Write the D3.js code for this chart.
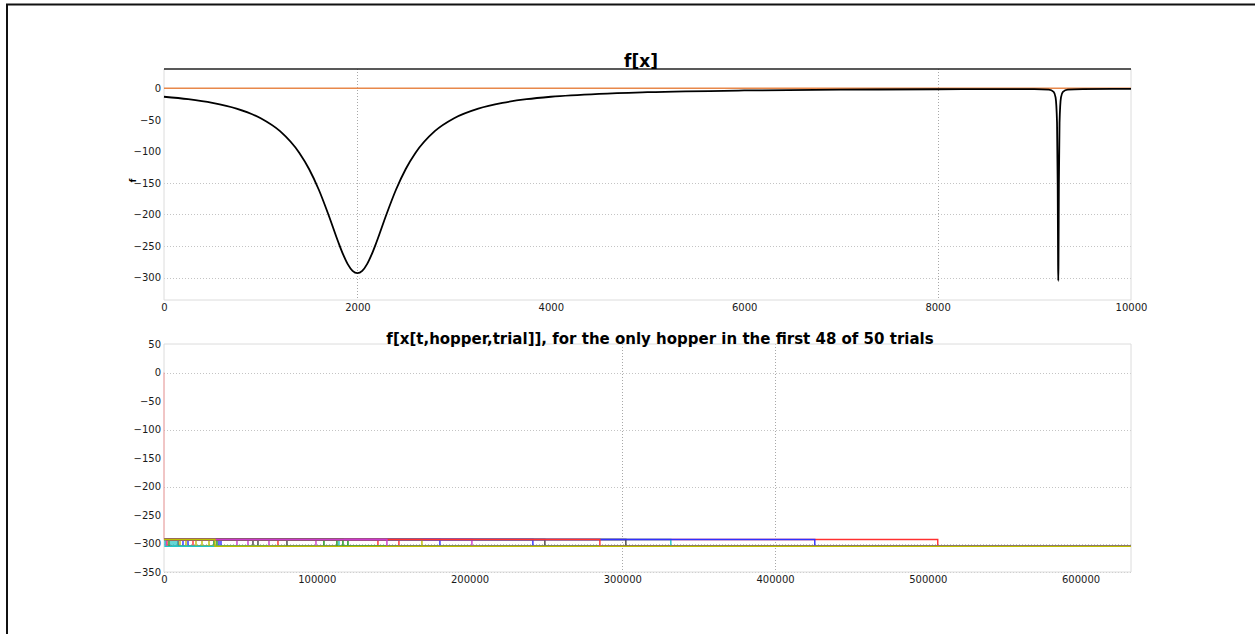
<!DOCTYPE html>
<html>
<head>
<meta charset="utf-8">
<script src="https://cdn.jsdelivr.net/npm/d3@7"></script>
<style>
  body { margin: 0; background: #fff; }
  svg { display: block; }
  text { font-family: "DejaVu Sans", sans-serif; }
</style>
</head>
<body>
<svg id="chart" width="1255" height="634"></svg>
<script>
// ---- f[x] sampled along x ----
const curveX = [0, 250, 500, 750, 1000, 1200, 1400, 1500, 1600, 1700, 1800, 1850, 1900, 1950, 2000,
  2050, 2100, 2150, 2200, 2300, 2400, 2500, 2600, 2800, 3000, 3250, 3500, 3750, 4000, 4500, 5000,
  6000, 7000, 8000, 8500, 9000, 9150, 9200, 9220, 9235, 9242, 9246, 9248, 9250, 9254, 9261, 9276,
  9296, 9346, 9500, 10000];
const curveF = [-13.5, -17.4, -23.2, -32.3, -47.5, -68.0, -102.5, -127.9, -160.4, -200.0, -242.8, -262.5, -278.6, -289.3, -293,
  -289.3, -278.6, -262.5, -242.8, -200.0, -160.4, -127.9, -102.5, -68.0, -47.5, -32.3, -23.2, -17.4, -13.5, -8.8, -6.2,
  -3.5, -2.3, -1.6, -1.4, -1.3, -2.2, -5.8, -14.5, -54.7, -153.6, -275.6, -305, -275.6, -153.6, -54.7, -14.5,
  -5.8, -2.2, -1.3, -0.9];
// reference level drawn across the whole range
const refLineX = [0, 10000];
const refLineF = [0, 0];

const topXTicks = [0, 2000, 4000, 6000, 8000, 10000];
const topYTicks = [0, -50, -100, -150, -200, -250, -300];
const topXGrid = [2000, 8000];
const topYGrid = [-150, -200, -250, -300];

// ---- hopper traces: one per trial ----
const runLength = 633000;
const basinLevel = -293;     // f at the broad well
const bestLevel = -305;      // f at the narrow well
// step at which each trial leaves the broad well for the narrow one
const dropStep = [12430, 32720, 1960, 4580, 1310, 10470, 9160, 15710, 3270, 18980,
  5890, 47770, 14400, 58240, 35990, 120410, 74600, 7200, 54970, 24870,
  61510, 37300, 34680, 140040, 8510, 68710, 20940, 80490, 180610, 104700,
  153780, 114520, 99470, 29450, 249320, 241470, 113210, 506500, 331780, 201560,
  168840, 302330, 426010, 117140, 285320, 650, 145930, 33370];
// value each trial starts from before settling in the broad well
const startValue = dropStep.map((d, i) => i === 2 ? 0 : basinLevel);
const colorCycle = ["#3030ff", "#159015", "#ff3030", "#25c4c4", "#cc3ccc", "#bdbd00", "#444444"];

const botXTicks = [0, 100000, 200000, 300000, 400000, 500000, 600000];
const botYTicks = [50, 0, -50, -100, -150, -200, -250, -300, -350];
const botXGrid = [300000, 400000];
const botYGrid = [0, -100, -200, -300, -350];

const svg = d3.select("#chart");

// outer frame edges
svg.append("line").attr("x1", 6).attr("x2", 1255).attr("y1", 4.5).attr("y2", 4.5)
  .attr("stroke", "#111").attr("stroke-width", 2);
svg.append("line").attr("x1", 7).attr("x2", 7).attr("y1", 4).attr("y2", 634)
  .attr("stroke", "#111").attr("stroke-width", 2);

function panel(box, xDomain, yDomain) {
  const x = d3.scaleLinear().domain(xDomain).range([box.left, box.right]);
  const y = d3.scaleLinear().domain(yDomain).range([box.bottom, box.top]);
  return { x, y };
}

function drawFrame(g, box, darkTop) {
  const spine = "#dcdcdc";
  g.append("line").attr("x1", box.left).attr("x2", box.left).attr("y1", box.top).attr("y2", box.bottom).attr("stroke", spine);
  g.append("line").attr("x1", box.right).attr("x2", box.right).attr("y1", box.top).attr("y2", box.bottom).attr("stroke", spine);
  g.append("line").attr("x1", box.left).attr("x2", box.right).attr("y1", box.bottom).attr("y2", box.bottom).attr("stroke", spine);
  g.append("line").attr("x1", box.left).attr("x2", box.right).attr("y1", box.top).attr("y2", box.top)
    .attr("stroke", darkTop ? "#222" : spine).attr("stroke-width", darkTop ? 1.3 : 1);
}

function drawGrid(g, s, box, xs, ys) {
  g.selectAll(null).data(xs).join("line")
    .attr("x1", d => Math.round(s.x(d)) + 0.5).attr("x2", d => Math.round(s.x(d)) + 0.5)
    .attr("y1", box.top).attr("y2", box.bottom)
    .attr("stroke", "#a8a8a8").attr("stroke-dasharray", "1,2");
  g.selectAll(null).data(ys).join("line")
    .attr("x1", box.left).attr("x2", box.right)
    .attr("y1", d => Math.round(s.y(d)) + 0.5).attr("y2", d => Math.round(s.y(d)) + 0.5)
    .attr("stroke", "#c4c4c4").attr("stroke-dasharray", "1,2");
}

function drawAxes(g, s, box, xt, yt) {
  const ax = g.append("g").attr("transform", `translate(0,${box.bottom})`)
    .call(d3.axisBottom(s.x).tickValues(xt).tickSize(0).tickPadding(4).tickFormat(d3.format("d")));
  const ay = g.append("g").attr("transform", `translate(${box.left},0)`)
    .call(d3.axisLeft(s.y).tickValues(yt).tickSize(0).tickPadding(3).tickFormat(d3.format("d")));
  [ax, ay].forEach(a => {
    a.select(".domain").remove();
    a.selectAll("text").attr("font-size", 10).attr("fill", "#1a1a1a")
      .attr("font-family", "'DejaVu Sans', sans-serif");
  });
}

// ---- upper panel: f[x] ----
const topBox = { left: 164, right: 1131, top: 69, bottom: 300 };
const topS = panel(topBox, [0, 10000], [-335.5, 30.5]);
const gTop = svg.append("g");
drawGrid(gTop, topS, topBox, topXGrid, topYGrid);
drawFrame(gTop, topBox, true);
drawAxes(gTop, topS, topBox, topXTicks, topYTicks);

const refLine = d3.line().x((d, i) => topS.x(refLineX[i])).y(d => topS.y(d));
gTop.append("path").attr("d", refLine(refLineF))
  .attr("fill", "none").attr("stroke", "#e8884a").attr("stroke-width", 1.3);

const fLine = d3.line().x((d, i) => topS.x(curveX[i])).y(d => topS.y(d)).curve(d3.curveMonotoneX);
gTop.append("path").attr("d", fLine(curveF))
  .attr("fill", "none").attr("stroke", "#000").attr("stroke-width", 1.8);

gTop.append("text").attr("x", 641).attr("y", 67)
  .attr("text-anchor", "middle").attr("font-size", 17).attr("font-weight", "bold").text("f[x]");
gTop.append("text").attr("transform", `translate(136,${(topBox.top + topBox.bottom) / 2 - 4}) rotate(-90)`)
  .attr("text-anchor", "middle").attr("font-size", 9).attr("font-weight", "bold").text("f");

// ---- lower panel: f along each hopper's path ----
const botBox = { left: 164, right: 1131, top: 344, bottom: 572 };
const botS = panel(botBox, [0, runLength], [-350, 50]);
const gBot = svg.append("g");
drawGrid(gBot, botS, botBox, botXGrid, botYGrid);
drawFrame(gBot, botBox, false);
drawAxes(gBot, botS, botBox, botXTicks, botYTicks);

const traceLine = d3.line().x(d => botS.x(d[0])).y(d => botS.y(d[1]));
const color = i => colorCycle[i % colorCycle.length];

// entry drop from the starting value into the broad well
gBot.append("g").selectAll("path")
  .data(startValue.map((v, i) => ({ i, pts: [[0, v], [0, basinLevel]] })).filter(d => d.pts[0][1] !== basinLevel))
  .join("path")
  .attr("d", d => traceLine(d.pts))
  .attr("fill", "none").attr("stroke", d => color(d.i)).attr("stroke-opacity", 0.35).attr("stroke-width", 1.2);

// time in the broad well, then the drop into the narrow well
const traces = dropStep.map(t => [[0, basinLevel], [t, basinLevel], [t, bestLevel], [runLength, bestLevel]]);
gBot.append("g").selectAll("path").data(traces).join("path")
  .attr("d", traceLine)
  .attr("fill", "none")
  .attr("stroke", (d, i) => color(i))
  .attr("stroke-width", 1.4);

gBot.append("text").attr("x", 660).attr("y", 344)
  .attr("text-anchor", "middle").attr("font-size", 15).attr("font-weight", "bold")
  .text("f[x[t,hopper,trial]], for the only hopper in the first 48 of 50 trials");
</script>
</body>
</html>
